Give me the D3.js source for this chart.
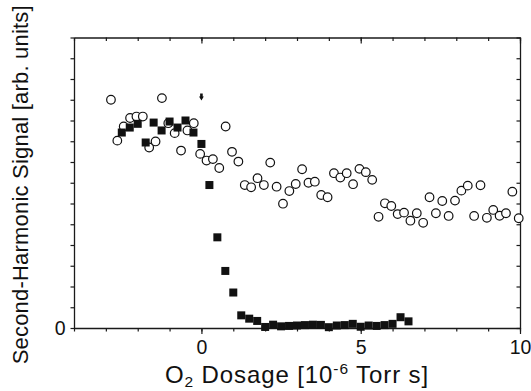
<!DOCTYPE html>
<html>
<head>
<meta charset="utf-8">
<script src="https://cdn.jsdelivr.net/npm/d3@7"></script>
<style>
body{margin:0;background:#fff;}
svg{display:block;font-family:'Liberation Sans',Arial,sans-serif;}
</style>
</head>
<body>
<svg id="chart"></svg>
<script>
// filled squares (before / after O2 exposure)
let sqX=[-2.5,-2.25,-2,-1.75,-1.5,-1.25,-1,-0.75,-0.5,-0.25,0,0.25,0.5,0.75,1,1.25,1.5,1.75,2,2.25,2.5,2.75,3,3.25,3.5,3.75,4,4.25,4.5,4.75,5,5.25,5.5,5.75,6,6.25,6.5];
let sqY=[9.42,9.66,9.84,8.94,9.9,9.52,9.95,9.66,10,9.42,8.87,6.89,4.37,2.75,1.71,0.61,0.45,0.34,0.05,0.16,0.08,0.1,0.12,0.14,0.16,0.15,0.04,0.12,0.14,0.2,0.06,0.12,0.1,0.14,0.2,0.52,0.32];
// open circles
let ciX=[-2.84,-2.64,-2.44,-2.24,-2.04,-1.84,-1.64,-1.44,-1.24,-1.04,-0.84,-0.64,-0.44,-0.24,-0.04,0.16,0.36,0.56,0.76,0.96,1.16,1.36,1.56,1.76,1.96,2.16,2.36,2.56,2.76,2.96,3.16,3.36,3.56,3.76,3.96,4.16,4.36,4.56,4.76,4.96,5.16,5.36,5.56,5.76,5.96,6.16,6.36,6.56,6.76,6.96,7.16,7.36,7.56,7.76,7.96,8.16,8.36,8.56,8.76,8.96,9.16,9.36,9.56,9.76,9.96];
let ciY=[11,9.03,9.71,10.12,10.19,10.19,8.7,8.99,11.08,9.87,9.39,8.55,9.52,9.87,8.39,8.07,8.14,7.71,9.71,8.49,8.02,6.89,6.78,7.22,6.89,7.97,6.81,5.99,6.6,6.94,7.65,7,7.05,6.41,6.3,7.46,7.25,7.46,6.93,7.67,7.51,7.14,5.36,6.01,5.88,5.49,5.56,5.17,5.53,5.07,6.3,5.53,6.12,5.4,6.14,6.62,6.86,5.4,6.88,5.31,5.69,5.41,5.53,6.57,5.29];

let xMinor=[-4,-3,-2,-1,0,1,2,3,4,5,6,7,8,9,10];
let xMajor=[0,5,10];
let yTicks=[0,1,2,3,4,5,6,7,8,9,10,11,12,13,14];
let yLabels=[0];

let width=531, height=391;
let mLeft=74, mRight=520, mTop=37.5, mBottom=328;

let svg=d3.select('#chart').attr('width',width).attr('height',height);

let xScale=d3.scaleLinear().domain([-4,10]).range([mLeft,mRight]);
let yScale=d3.scaleLinear().domain([0,14]).range([mBottom,mTop]);

let styleAxis=(g)=>{
  g.select('.domain').attr('stroke','#1a1a1a').attr('stroke-width',1.3);
  g.selectAll('.tick line').attr('stroke','#1a1a1a').attr('stroke-width',1.2);
  g.selectAll('text').attr('fill','#111').style('font-family',"'Liberation Sans',Arial,sans-serif");
};

// bottom axis
svg.append('g').attr('transform','translate(0,'+mBottom+')')
  .call(d3.axisBottom(xScale).tickValues(xMinor).tickSize(3.5).tickSizeOuter(0).tickFormat(''))
  .call(styleAxis);
svg.append('g').attr('transform','translate(0,'+mBottom+')')
  .call(d3.axisBottom(xScale).tickValues(xMajor).tickSize(6).tickSizeOuter(0).tickPadding(6).tickFormat(d3.format('d')))
  .call(styleAxis)
  .call(g=>g.select('.domain').remove())
  .call(g=>g.selectAll('text').attr('font-size',19.5));

// top axis (ticks inward)
svg.append('g').attr('transform','translate(0,'+mTop+')')
  .call(d3.axisTop(xScale).tickValues(xMinor).tickSize(-3.5).tickSizeOuter(0).tickFormat(''))
  .call(styleAxis);
svg.append('g').attr('transform','translate(0,'+mTop+')')
  .call(d3.axisTop(xScale).tickValues(xMajor).tickSize(-6).tickSizeOuter(0).tickFormat(''))
  .call(styleAxis)
  .call(g=>g.select('.domain').remove());

// left axis
svg.append('g').attr('transform','translate('+mLeft+',0)')
  .call(d3.axisLeft(yScale).tickValues(yTicks).tickSize(3.5).tickSizeOuter(0).tickPadding(5)
    .tickFormat(d=>yLabels.includes(d)?d:''))
  .call(styleAxis)
  .call(g=>g.selectAll('text').attr('font-size',19.5));

// right axis (ticks inward)
svg.append('g').attr('transform','translate('+mRight+',0)')
  .call(d3.axisRight(yScale).tickValues(yTicks).tickSize(-3.5).tickSizeOuter(0).tickFormat(''))
  .call(styleAxis);

// open circles
svg.append('g').selectAll('circle')
  .data(ciX.map((x,i)=>({x:x,y:ciY[i]})))
  .enter().append('circle')
  .attr('cx',d=>xScale(d.x))
  .attr('cy',d=>yScale(d.y))
  .attr('r',4.3)
  .attr('fill','#fff')
  .attr('stroke','#111')
  .attr('stroke-width',1.2);

// filled squares
let sq=8;
svg.append('g').selectAll('rect')
  .data(sqX.map((x,i)=>({x:x,y:sqY[i]})))
  .enter().append('rect')
  .attr('x',d=>xScale(d.x)-sq/2)
  .attr('y',d=>yScale(d.y)-sq/2)
  .attr('width',sq)
  .attr('height',sq)
  .attr('fill','#111');

// small arrow marking the start of the dosage
let ax=xScale(0), ay=yScale(11.2);
svg.append('path')
  .attr('d','M'+(ax-1.3)+','+(ay-2)+'L'+(ax+1.3)+','+(ay-2)+'L'+(ax+1.3)+','+(ay+1)
    +'L'+(ax+2.4)+','+(ay+1)+'L'+ax+','+(ay+5)+'L'+(ax-2.4)+','+(ay+1)+'L'+(ax-1.3)+','+(ay+1)+'Z')
  .attr('fill','#111');

// axis titles
let xt=svg.append('text')
  .attr('x',(mLeft+mRight)/2)
  .attr('y',383)
  .attr('text-anchor','middle')
  .attr('font-size',24)
  .attr('letter-spacing',0.9)
  .attr('fill','#111');
xt.append('tspan').text('O');
xt.append('tspan').attr('font-size',15.5).attr('dy',4).text('2');
xt.append('tspan').attr('dy',-4).text(' Dosage [10');
xt.append('tspan').attr('font-size',15.5).attr('dy',-9).text('-6');
xt.append('tspan').attr('dy',9).text(' Torr s]');

svg.append('text')
  .attr('transform','translate(28,'+((mTop+mBottom)/2+2)+') rotate(-90)')
  .attr('text-anchor','middle')
  .attr('font-size',22)
  .attr('letter-spacing',0.2)
  .attr('fill','#111')
  .text('Second-Harmonic Signal [arb. units]');
</script>
</body>
</html>
